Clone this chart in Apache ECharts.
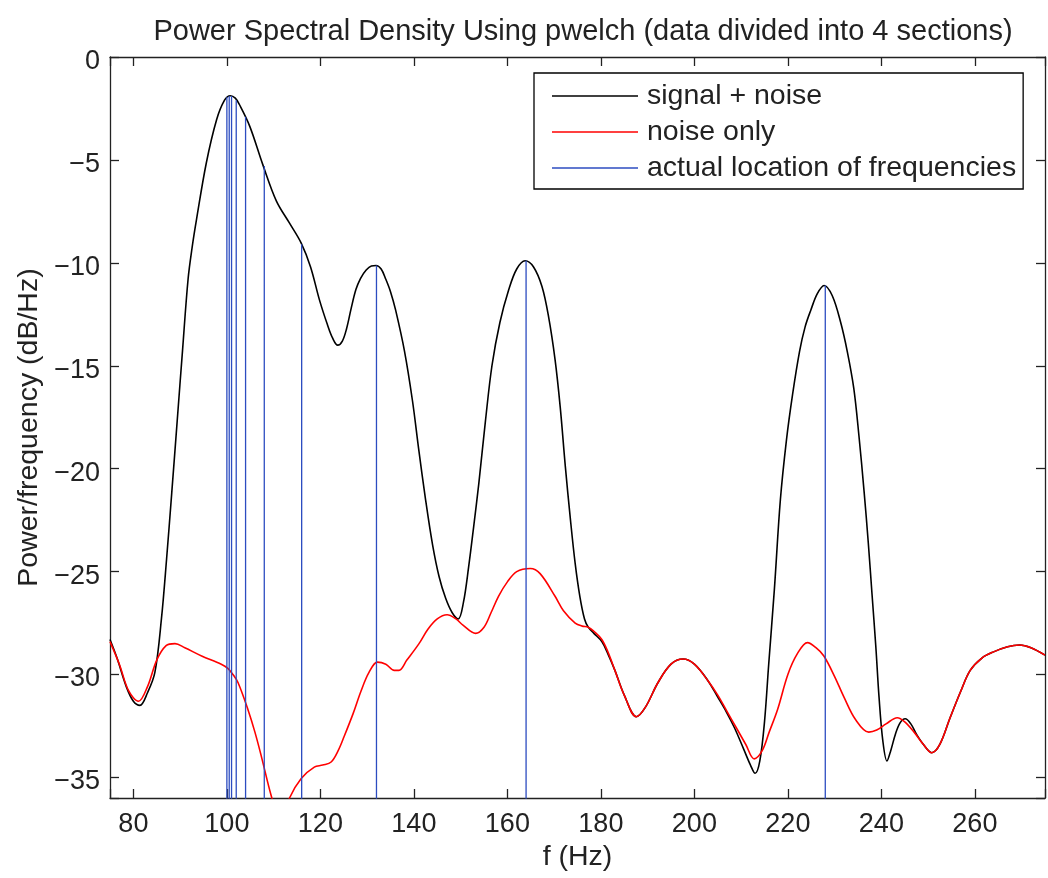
<!DOCTYPE html>
<html>
<head>
<meta charset="utf-8">
<style>
html,body{margin:0;padding:0;background:#fff;}
#chart{width:1048px;height:878px;}
</style>
<script src="https://cdn.jsdelivr.net/npm/echarts@6/dist/echarts.min.js"></script>
</head>
<body>
<div id="chart"></div>
<script>
// ---- data ----
const signalF = [75,76.5,78.5,80,81.4,83,84.6,86,87.1,88.2,89.4,90.5,91.7,92.6,93.5,95.6,97.8,99.5,100.75,101.8,102.7,104.9,107.7,110.6,113.4,115.9,117.9,119.8,121.5,122.6,123.7,124.7,125.6,126.6,127.6,128.6,129.8,130.9,131.9,133,134,135,136.1,138,139.7,141,142.5,144,145.4,146.8,148.2,149.5,150.6,151.7,152.8,153.9,155.3,156.7,158.4,160.3,162,163.8,165.6,167.4,168.8,170.2,171.3,172.4,173.5,174.5,175.5,176.5,177.3,178.5,180.2,181.5,183,185,187.6,189.5,192.2,195,197.6,200,202.9,205,206.8,208.6,210.5,212,213,214,215,215.9,217.1,218.4,219.7,221,222.5,223.7,224.9,226.3,227.75,229.5,231.3,232.7,234.1,235.2,236.3,237.2,238,238.8,239.5,240.3,241.2,242,243,244,245.1,246.3,247.5,249,250.8,252.5,254.7,257,259,261.5,264,267,269.6,272,275];
const signalV = [-28.3,-29.2,-30.6,-31.3,-31.5,-30.9,-29.9,-27.3,-24.4,-21.2,-17.6,-14.3,-10.8,-9.2,-7.9,-5.15,-3.05,-2.1,-1.88,-2.0,-2.32,-3.37,-5.24,-7.0,-8.07,-9.04,-10.2,-11.8,-13.0,-13.65,-14.0,-13.8,-13.2,-12.2,-11.3,-10.75,-10.35,-10.15,-10.13,-10.3,-10.8,-11.4,-12.3,-14.3,-16.7,-19,-21.5,-23.7,-25.25,-26.3,-27.0,-27.3,-26.5,-24.8,-22.8,-20.7,-17.7,-15.0,-12.9,-11.3,-10.3,-9.9,-10.2,-11.15,-12.6,-14.7,-17.0,-19.9,-22.5,-24.6,-26.2,-27.3,-27.7,-28.0,-28.4,-29.0,-29.8,-31.0,-32.05,-31.6,-30.4,-29.5,-29.25,-29.5,-30.3,-31.1,-31.8,-32.6,-33.6,-34.4,-34.8,-34.2,-32.3,-29.5,-25.9,-21.5,-18.6,-16.4,-14.3,-13.1,-12.3,-11.5,-11.1,-11.6,-12.9,-14.3,-16.1,-18.4,-21.1,-23.6,-26.1,-28.6,-31.1,-33.2,-34.2,-33.7,-32.9,-32.35,-32.15,-32.4,-32.9,-33.4,-33.8,-33.4,-32.1,-30.8,-29.8,-29.2,-28.9,-28.65,-28.57,-28.7,-29.06];

const noiseF = [75,77,79,81.1,83,85,87,88.9,91,94.6,98.8,100.2,101.3,102.4,104.5,106,107.4,109.5,111,112,113.4,115.9,118.7,120.5,122.3,123.8,125.1,127,128.7,130.4,132.2,134,135.8,136.8,138.5,141.1,143,145,147.1,149,150.5,153.2,155,156.5,158.1,160,162,164.9,167,170.2,172,174.5,176,177.3,178.5,180.2,181.5,183,185,187.6,189.5,192.2,195,197.6,200,202.9,205,207,209,211,212.8,214.5,216,217.8,220,222,224.2,226,227.7,230,232,234.5,237.3,239,241,243.4,245,247,249,250.8,252.5,254.7,257,259,261.5,264,267,269.6,272,275];
const noiseV = [-28.4,-29.5,-30.8,-31.3,-30.6,-29.3,-28.6,-28.5,-28.7,-29.1,-29.5,-29.7,-30.0,-30.4,-31.7,-32.8,-34.0,-35.9,-36.9,-37.1,-36.0,-35.05,-34.5,-34.4,-34.25,-33.7,-33.0,-31.9,-30.8,-29.9,-29.4,-29.5,-29.8,-29.8,-29.3,-28.5,-27.8,-27.3,-27.1,-27.3,-27.6,-28.0,-27.7,-27.0,-26.2,-25.5,-25.0,-24.85,-25.1,-26.2,-26.9,-27.5,-27.65,-27.7,-27.9,-28.3,-28.9,-29.8,-31.0,-32.05,-31.6,-30.4,-29.5,-29.25,-29.5,-30.3,-31.0,-31.8,-32.6,-33.4,-34.1,-33.7,-32.8,-31.7,-30.0,-29.0,-28.45,-28.7,-29.1,-30.1,-31.1,-32.2,-32.8,-32.7,-32.4,-32.1,-32.3,-32.8,-33.4,-33.8,-33.4,-32.1,-30.8,-29.8,-29.2,-28.9,-28.65,-28.57,-28.7,-29.06];

const actualFreqs = [100,100.5,101,102,104,108,116,132,164,228];
const actualTops  = [-1.95,-1.9,-1.9,-2.1,-2.9,-5.3,-9.1,-10.13,-9.9,-11.1];

const xTickLabels = [80,100,120,140,160,180,200,220,240,260];
const yTickLabels = [0,-5,-10,-15,-20,-25,-30,-35];

const legendNames = ['signal + noise','noise only','actual location of frequencies'];
const titleText = 'Power Spectral Density Using pwelch (data divided into 4 sections)';
const xName = 'f (Hz)';
const yName = 'Power/frequency (dB/Hz)';

// ---- build ----
const X_MIN = 75, X_MAX = 275, Y_MIN = -36, Y_MAX = 0;
const FONT = '"Liberation Sans", Arial, Helvetica, sans-serif';
const TXT = '#222';
const zip = (a, b) => a.map((v, i) => [v, b[i]]);

const blueData = [];
actualFreqs.forEach((f, i) => {
  blueData.push([f, Y_MIN - 5]);
  blueData.push([f, actualTops[i]]);
  blueData.push([f, '-']);
});

const fmtMinus = v => String(v).replace('-', '\u2212');

const axisLineStyle = {color: '#222', width: 1.3};

const chart = echarts.init(document.getElementById('chart'), null, {renderer: 'canvas'});
chart.setOption({
  animation: false,
  backgroundColor: '#fff',
  textStyle: {fontFamily: FONT},
  title: {
    text: titleText,
    left: 578,
    textAlign: 'center',
    top: 12,
    textStyle: {fontFamily: FONT, fontSize: 29, fontWeight: 'normal', color: TXT}
  },
  grid: {left: 110, right: 1, top: 57, bottom: 80, containLabel: false},
  legend: {
    data: legendNames,
    orient: 'vertical',
    left: 534,
    top: 73,
    padding: [8, 7, 6, 18],
    icon: 'rect',
    itemWidth: 86,
    itemHeight: 1.5,
    itemGap: 6,
    backgroundColor: '#fff',
    borderColor: '#000',
    borderWidth: 1.3,
    borderRadius: 0,
    textStyle: {fontFamily: FONT, fontSize: 28.5, color: TXT, lineHeight: 30, padding: [0, 0, 0, 4]}
  },
  xAxis: [{
    type: 'value', min: X_MIN, max: X_MAX, splitNumber: 10,
    name: xName, nameLocation: 'middle', nameGap: 45,
    nameTextStyle: {fontFamily: FONT, fontSize: 28.5, color: TXT},
    axisLine: {show: true, onZero: false, lineStyle: axisLineStyle},
    axisTick: {show: true, inside: true, length: 9, lineStyle: axisLineStyle},
    axisLabel: {
      fontFamily: FONT, fontSize: 27, color: TXT, margin: 13,
      formatter: v => xTickLabels.indexOf(v) >= 0 ? String(v) : ''
    },
    splitLine: {show: false}
  }, {
    type: 'value', min: X_MIN, max: X_MAX, splitNumber: 10, position: 'top',
    axisLine: {show: true, onZero: false, lineStyle: axisLineStyle},
    axisTick: {show: true, inside: true, length: 9, lineStyle: axisLineStyle},
    axisLabel: {show: false},
    splitLine: {show: false}
  }],
  yAxis: [{
    type: 'value', min: Y_MIN, max: Y_MAX, splitNumber: 7,
    name: yName, nameLocation: 'middle', nameGap: 66,
    nameTextStyle: {fontFamily: FONT, fontSize: 28.5, color: TXT},
    axisLine: {show: true, onZero: false, lineStyle: axisLineStyle},
    axisTick: {show: true, inside: true, length: 9, lineStyle: axisLineStyle},
    axisLabel: {
      fontFamily: FONT, fontSize: 27, color: TXT, margin: 10,
      verticalAlign: 'top', lineHeight: 9,
      formatter: v => yTickLabels.indexOf(v) >= 0 ? fmtMinus(v) : ''
    },
    splitLine: {show: false}
  }, {
    type: 'value', min: Y_MIN, max: Y_MAX, splitNumber: 7, position: 'right',
    axisLine: {show: true, onZero: false, lineStyle: axisLineStyle},
    axisTick: {show: true, inside: true, length: 9, lineStyle: axisLineStyle},
    axisLabel: {show: false},
    splitLine: {show: false}
  }],
  series: [{
    name: legendNames[0], type: 'line', data: zip(signalF, signalV),
    symbol: 'none', smooth: 0.35, clip: true,
    lineStyle: {color: '#000', width: 1.6}, itemStyle: {color: '#000'}
  }, {
    name: legendNames[1], type: 'line', data: zip(noiseF, noiseV),
    symbol: 'none', smooth: 0.35, clip: true,
    lineStyle: {color: '#ff0000', width: 1.6}, itemStyle: {color: '#ff0000'}
  }, {
    name: legendNames[2], type: 'line', data: blueData,
    symbol: 'none', connectNulls: false, clip: true,
    lineStyle: {color: '#2c4cc0', width: 1.3}, itemStyle: {color: '#2c4cc0'}
  }]
});
</script>
</body>
</html>
